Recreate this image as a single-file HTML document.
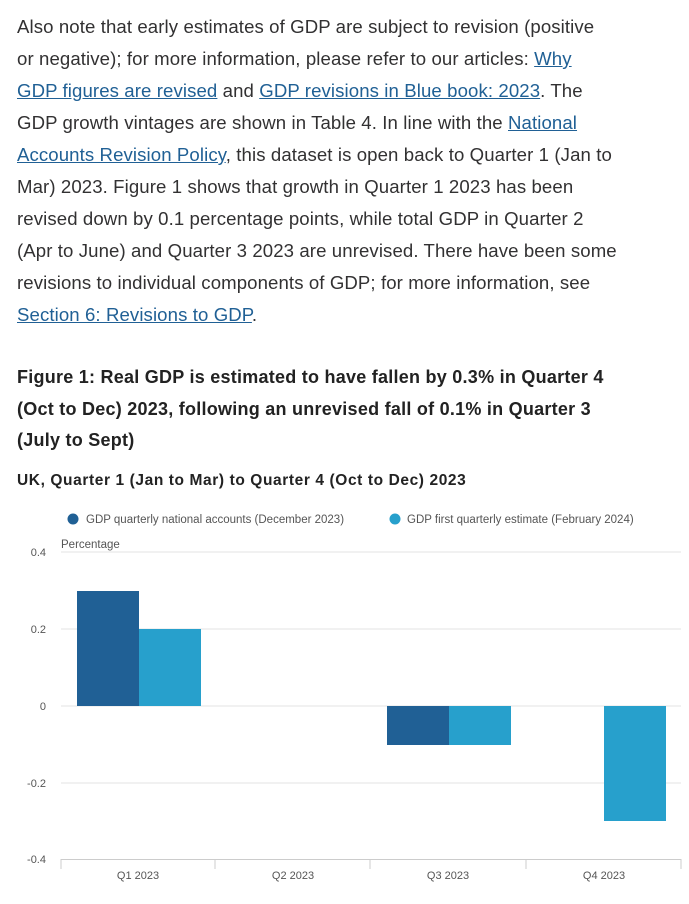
<!DOCTYPE html>
<html><head><style>
body{margin:0;width:689px;height:904px;background:#fff;font-family:"Liberation Sans",sans-serif;color:#323132;overflow:hidden}
p{position:absolute;left:17px;top:11px;margin:0;font-size:18.6px;line-height:32px;letter-spacing:0.1px;white-space:nowrap}
a{color:#206095;text-decoration:underline}
h2{position:absolute;left:17px;top:362px;margin:0;font-size:18px;line-height:31.5px;font-weight:bold;color:#222;white-space:nowrap;letter-spacing:0.25px}
h3{position:absolute;left:17px;top:472px;margin:0;font-size:15.5px;font-weight:bold;color:#222;letter-spacing:0.6px}
</style></head><body>
<p>Also note that early estimates of GDP are subject to revision (positive<br>or negative); for more information, please refer to our articles: <a>Why</a><br><a>GDP figures are revised</a> and <a>GDP revisions in Blue book: 2023</a>. The<br>GDP growth vintages are shown in Table 4. In line with the <a>National</a><br><a>Accounts Revision Policy</a>, this dataset is open back to Quarter 1 (Jan to<br>Mar) 2023. Figure 1 shows that growth in Quarter 1 2023 has been<br>revised down by 0.1 percentage points, while total GDP in Quarter 2<br>(Apr to June) and Quarter 3 2023 are unrevised. There have been some<br>revisions to individual components of GDP; for more information, see<br><a>Section 6: Revisions to GDP</a>.</p>
<h2>Figure 1: Real GDP is estimated to have fallen by 0.3% in Quarter 4<br>(Oct to Dec) 2023, following an unrevised fall of 0.1% in Quarter 3<br>(July to Sept)</h2>
<h3>UK, Quarter 1 (Jan to Mar) to Quarter 4 (Oct to Dec) 2023</h3>
<svg width="689" height="904" style="position:absolute;left:0;top:0" font-family="Liberation Sans,sans-serif" font-size="11" fill="#555">
<circle cx="73" cy="519" r="5.5" fill="#206095"/><text x="86" y="523" font-size="11.5">GDP quarterly national accounts (December 2023)</text>
<circle cx="395" cy="519" r="5.5" fill="#27a0cc"/><text x="407" y="523" font-size="11.5">GDP first quarterly estimate (February 2024)</text>
<text x="61" y="548" font-size="11.5">Percentage</text>
<g stroke="#e3e3e3"><line x1="61" x2="681" y1="552" y2="552"/><line x1="61" x2="681" y1="629" y2="629"/><line x1="61" x2="681" y1="706" y2="706"/><line x1="61" x2="681" y1="783" y2="783"/></g>
<g stroke="#ccc"><line x1="61" x2="681" y1="859.5" y2="859.5"/><line x1="61" x2="61" y1="859" y2="869"/><line x1="215" x2="215" y1="859" y2="869"/><line x1="370" x2="370" y1="859" y2="869"/><line x1="526" x2="526" y1="859" y2="869"/><line x1="681" x2="681" y1="859" y2="869"/></g>
<g text-anchor="end"><text x="46" y="556">0.4</text><text x="46" y="633">0.2</text><text x="46" y="710">0</text><text x="46" y="787">-0.2</text><text x="46" y="863">-0.4</text></g>
<rect x="77" y="591" width="62" height="115" fill="#206095"/>
<rect x="139" y="629" width="62" height="77" fill="#27a0cc"/>
<rect x="387" y="706" width="62" height="39" fill="#206095"/>
<rect x="449" y="706" width="62" height="39" fill="#27a0cc"/>
<rect x="604" y="706" width="62" height="115" fill="#27a0cc"/>
<g text-anchor="middle"><text x="138" y="879">Q1 2023</text><text x="293" y="879">Q2 2023</text><text x="448" y="879">Q3 2023</text><text x="604" y="879">Q4 2023</text></g>
</svg>
</body></html>
